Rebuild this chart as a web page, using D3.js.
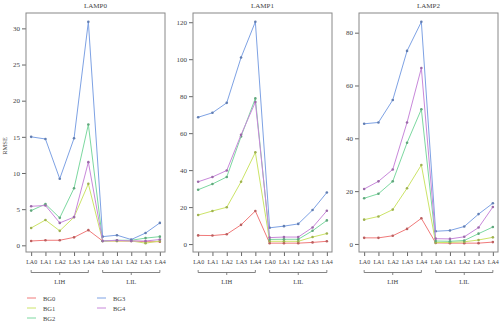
<!DOCTYPE html>
<html>
<head>
<meta charset="utf-8">
<script src="https://cdn.jsdelivr.net/npm/d3@7"></script>
<style>
  body { margin: 0; background: #fff; }
  svg { display: block; }
  text { font-family: "Liberation Serif", "DejaVu Serif", serif; fill: #444; }
</style>
</head>
<body>
<svg id="chart" width="500" height="323"></svg>
<script>
var xLabels = ["LA0", "LA1", "LA2", "LA3", "LA4", "LA0", "LA1", "LA2", "LA3", "LA4"];
var groups = ["LIH", "LIL"];
var seriesNames = ["BG0", "BG1", "BG2", "BG3", "BG4"];
var seriesColors = ["#f07a7a", "#cce468", "#7cd8a0", "#7ea2e4", "#c888da"];

var panelTitles = ["LAMP0", "LAMP1", "LAMP2"];
var panelTicks = [
  [0, 5, 10, 15, 20, 25, 30],
  [0, 20, 40, 60, 80, 100, 120],
  [0, 20, 40, 60, 80]
];

var lamp0 = [
  [0.6, 0.7, 0.7, 1.1, 2.1, 0.6, 0.6, 0.6, 0.5, 0.5],
  [2.4, 3.5, 2.0, 3.9, 8.5, 0.6, 0.6, 0.6, 0.3, 0.6],
  [4.8, 5.7, 3.8, 7.9, 16.7, 0.6, 0.7, 0.7, 1.0, 1.2],
  [15.0, 14.7, 9.2, 14.8, 30.9, 1.2, 1.4, 0.8, 1.7, 3.1],
  [5.4, 5.5, 3.1, 3.9, 11.5, 0.6, 0.7, 0.6, 0.6, 0.8]
];
var lamp1 = [
  [4.7, 4.6, 5.3, 10.4, 17.9, 0.5, 0.5, 0.5, 0.9, 1.5],
  [15.7, 17.9, 19.9, 33.7, 49.6, 1.5, 1.5, 1.5, 3.8, 5.7],
  [29.4, 32.5, 36.3, 58.2, 78.8, 2.5, 2.6, 2.6, 7.2, 12.8],
  [68.6, 71.0, 76.4, 100.9, 120.2, 8.8, 9.7, 10.9, 18.4, 27.9],
  [33.7, 36.3, 39.8, 59.1, 76.8, 3.5, 3.8, 3.8, 9.0, 18.0]
];
var lamp2 = [
  [2.3, 2.3, 3.1, 5.7, 9.7, 0.4, 0.3, 0.3, 0.3, 0.7],
  [9.2, 10.4, 13.0, 21.1, 29.9, 0.5, 0.6, 0.8, 1.5, 2.5],
  [17.3, 19.0, 23.7, 38.3, 51.0, 1.1, 1.0, 1.3, 3.9, 6.4],
  [45.5, 46.0, 54.5, 73.1, 84.1, 4.8, 5.1, 6.6, 11.3, 15.4],
  [20.8, 23.7, 28.2, 46.0, 66.6, 2.0, 1.9, 2.7, 6.2, 14.0]
];
var panelData = [lamp0, lamp1, lamp2];

var svg = d3.select("#chart");
var panelLeft = [26, 193, 359],
    panelWidth = 139,
    plotTop = 13,
    plotBottom = 252;

// darker shade for the point markers
function dark(c) { return d3.color(c).darker(0.7); }

panelData.forEach(function(data, p) {
  var left = panelLeft[p];
  var all = d3.merge(data);
  var ext = d3.extent(all), pad = (ext[1] - ext[0]) * 0.04;

  var x = d3.scaleLinear().domain([1 - 9 * 0.04, 10 + 9 * 0.04]).range([left, left + panelWidth]);
  var y = d3.scaleLinear().domain([ext[0] - pad, ext[1] + pad]).range([plotBottom, plotTop]);

  var g = svg.append("g");

  g.append("text")
      .attr("x", left + panelWidth / 2)
      .attr("y", 8)
      .attr("text-anchor", "middle")
      .style("font-size", "7px")
      .text(panelTitles[p]);

  // y axis
  var yAxis = g.append("g").attr("transform", "translate(" + left + ",0)")
      .call(d3.axisLeft(y).tickValues(panelTicks[p]).tickSize(4).tickPadding(2));
  yAxis.select(".domain").remove();
  yAxis.selectAll("line").attr("stroke", "#666");
  yAxis.selectAll("text").style("font-size", "7px").style("font-family", "Liberation Serif, serif").attr("fill", "#444");

  // x axis
  var xAxis = g.append("g").attr("transform", "translate(0," + plotBottom + ")")
      .call(d3.axisBottom(x).tickValues(d3.range(1, 11)).tickFormat(function(d) { return xLabels[d - 1]; })
        .tickSize(4).tickPadding(4));
  xAxis.select(".domain").remove();
  xAxis.selectAll("line").attr("stroke", "#666");
  xAxis.selectAll("text").style("font-size", "6px").style("font-family", "Liberation Serif, serif").attr("fill", "#444");

  // group braces
  groups.forEach(function(name, gi) {
    var x0 = x(gi * 5 + 1), x1 = x(gi * 5 + 5), xm = (x0 + x1) / 2, by = 272.5;
    g.append("path")
        .attr("d", "M" + x0 + "," + (by - 2.5) + "L" + x0 + "," + by + "L" + x1 + "," + by + "L" + x1 + "," + (by - 2.5) +
              "M" + xm + "," + by + "L" + xm + "," + (by + 2.5))
        .attr("fill", "none")
        .attr("stroke", "#666")
        .attr("stroke-width", 0.8);
    g.append("text")
        .attr("x", xm)
        .attr("y", 284)
        .attr("text-anchor", "middle")
        .style("font-size", "6.5px")
        .text(name);
  });

  var line = d3.line()
      .x(function(d, i) { return x(i + 1); })
      .y(function(d) { return y(d); });

  data.forEach(function(vals, s) {
    g.append("path")
        .datum(vals)
        .attr("d", line)
        .attr("fill", "none")
        .attr("stroke", seriesColors[s])
        .attr("stroke-width", 1);
    g.selectAll(null)
        .data(vals)
        .enter().append("circle")
        .attr("cx", function(d, i) { return x(i + 1); })
        .attr("cy", function(d) { return y(d); })
        .attr("r", 1.3)
        .attr("fill", dark(seriesColors[s]));
  });

  g.append("rect")
      .attr("x", left)
      .attr("y", plotTop)
      .attr("width", panelWidth)
      .attr("height", plotBottom - plotTop)
      .attr("fill", "none")
      .attr("stroke", "#888")
      .attr("stroke-width", 1);
});

// y label
svg.append("text")
    .attr("transform", "translate(7,146) rotate(-90)")
    .attr("text-anchor", "middle")
    .style("font-size", "6.5px")
    .text("RMSE");

// legend
var legend = svg.append("g");
seriesNames.forEach(function(name, i) {
  var col = i < 3 ? 0 : 1, row = i < 3 ? i : i - 3;
  var lx = col === 0 ? 27 : 97, ly = 298 + row * 10;
  legend.append("line")
      .attr("x1", lx).attr("x2", lx + 9)
      .attr("y1", ly).attr("y2", ly)
      .attr("stroke", seriesColors[i])
      .attr("stroke-width", 1);
  legend.append("text")
      .attr("x", lx + 16)
      .attr("y", ly + 2.5)
      .style("font-size", "6.5px")
      .text(name);
});
</script>
</body>
</html>
